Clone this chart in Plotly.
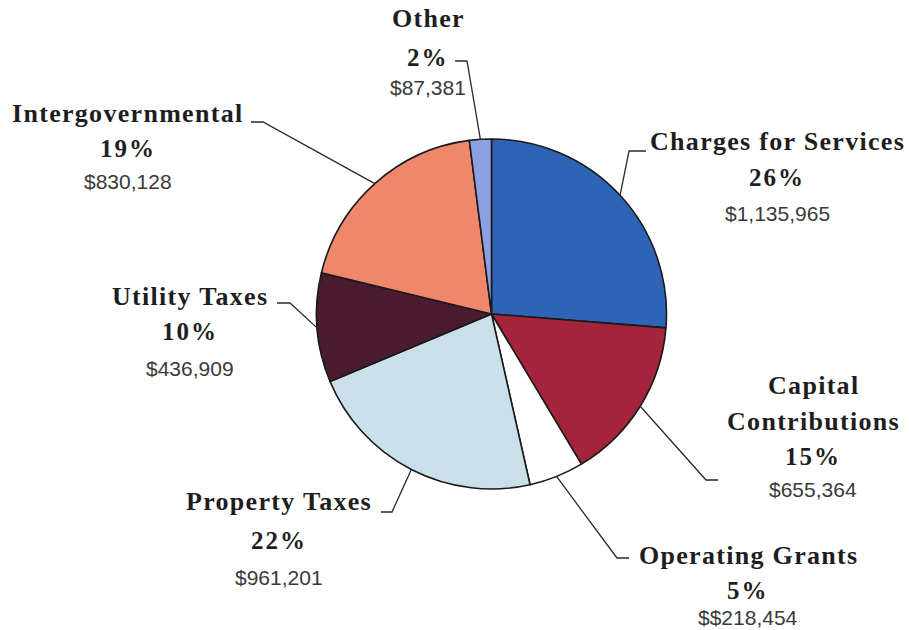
import math
import plotly.graph_objects as go

# ---------------- data ----------------
categories = ["Charges for Services", "Capital Contributions", "Operating Grants",
              "Property Taxes", "Utility Taxes", "Intergovernmental", "Other"]
values = [1135965, 655364, 218454, 961201, 436909, 830128, 87381]
value_labels = ["$1,135,965", "$655,364", "$$218,454", "$961,201",
                "$436,909", "$830,128", "$87,381"]
name_lines = [["Charges for Services"], ["Capital", "Contributions"], ["Operating Grants"],
              ["Property Taxes"], ["Utility Taxes"], ["Intergovernmental"], ["Other"]]
colors = ["#2e63b6", "#a4253b", "#ffffff", "#c9dfea", "#4a1b2f", "#f0876d", "#8c9fe0"]

# ---------------- layout constants (pixels) ----------------
W, H = 909, 630
CX, CY, R = 491.5, 314.0, 175.0

# label text positions: x centre, y of each name line, pct y, value y
label_pos = [
    dict(x=777, names=[141], pct=177, val=213),
    dict(x=813, names=[385, 421], pct=456, val=489),
    dict(x=748, names=[555], pct=590, val=617),
    dict(x=279, names=[502], pct=540, val=577),
    dict(x=190, names=[296], pct=331, val=368),
    dict(x=128, names=[113], pct=148, val=181),
    dict(x=428, names=[18], pct=57, val=88),
]
# leader line elbow and tick end
leaders = [
    ((629, 151), (646, 151)),
    ((706, 480), (718, 480)),
    ((617, 558), (629, 558)),
    ((392, 512), (381, 512)),
    ((290, 303), (277, 303)),
    ((263, 122), (251, 122)),
    ((467, 61), (455, 61)),
]


def px(x):
    return x / W


def py(y):
    return 1 - y / H


fig = go.Figure(go.Pie(
    labels=categories,
    values=values,
    sort=False,
    direction="clockwise",
    rotation=0,
    textinfo="none",
    hoverinfo="label+value+percent",
    marker=dict(colors=colors, line=dict(color="#1a1a1a", width=1.6)),
    domain=dict(x=[px(CX - R), px(CX + R)], y=[py(CY + R), py(CY - R)]),
    showlegend=False,
))

total = sum(values)
annotations = []
shapes = []
cum = 0.0
serif = "Liberation Serif, Times New Roman, serif"
sans = "Liberation Sans, Arial, sans-serif"
for i, v in enumerate(values):
    frac = v / total
    mid = (cum + frac / 2) * 2 * math.pi
    cum += frac
    ax_ = CX + R * math.sin(mid)
    ay_ = CY - R * math.cos(mid)
    (ex, ey), (tx, ty) = leaders[i]
    shapes.append(dict(
        type="path", xref="paper", yref="paper",
        path=f"M {px(ax_)} {py(ay_)} L {px(ex)} {py(ey)} L {px(tx)} {py(ty)}",
        line=dict(color="#2a2a2a", width=1.3),
    ))
    lp = label_pos[i]
    for line, ly in zip(name_lines[i], lp["names"]):
        annotations.append(dict(
            x=px(lp["x"]), y=py(ly), xref="paper", yref="paper",
            text=f"<span style='letter-spacing:1.3px'><b>{line}</b></span>",
            showarrow=False, xanchor="center", yanchor="middle",
            font=dict(family=serif, size=26, color="#1e1e1e"),
        ))
    annotations.append(dict(
        x=px(lp["x"]), y=py(lp["pct"]), xref="paper", yref="paper",
        text=f"<span style='letter-spacing:2px'><b>{round(frac * 100)}%</b></span>",
        showarrow=False, xanchor="center", yanchor="middle",
        font=dict(family=serif, size=25, color="#1e1e1e"),
    ))
    annotations.append(dict(
        x=px(lp["x"]), y=py(lp["val"]), xref="paper", yref="paper",
        text=value_labels[i], showarrow=False, xanchor="center", yanchor="middle",
        font=dict(family=sans, size=21, color="#3a3a3a"),
    ))

fig.update_layout(
    width=W, height=H,
    margin=dict(l=0, r=0, t=0, b=0),
    paper_bgcolor="white", plot_bgcolor="white",
    annotations=annotations,
    shapes=shapes,
)

fig.write_html("out.html", config={"displayModeBar": False},
               post_script="document.body.style.margin='0';")
